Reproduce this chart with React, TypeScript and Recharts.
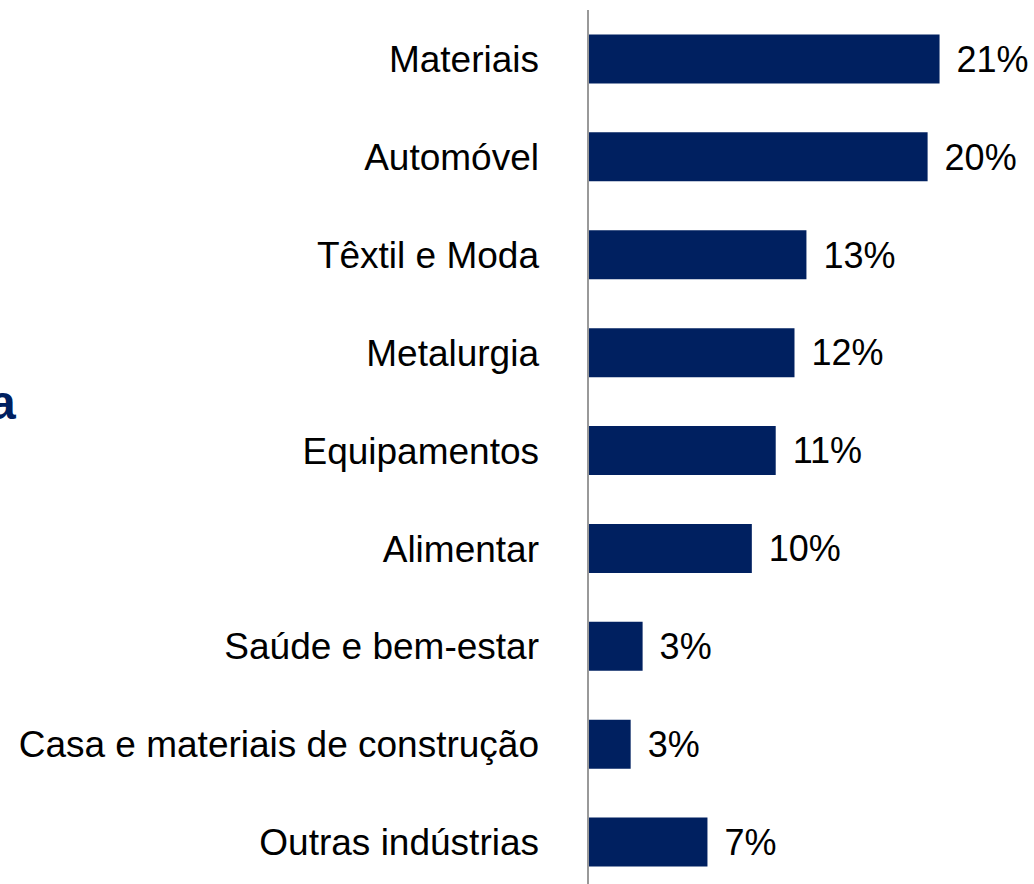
import React from "react";
import { BarChart, Bar, XAxis, YAxis, LabelList } from "recharts";

const categories = [
  "Materiais",
  "Automóvel",
  "Têxtil e Moda",
  "Metalurgia",
  "Equipamentos",
  "Alimentar",
  "Saúde e bem-estar",
  "Casa e materiais de construção",
  "Outras indústrias",
];
const shares = [20.6, 19.9, 12.8, 12.1, 11.0, 9.6, 3.2, 2.5, 7.0];
const shareLabels = ["21%", "20%", "13%", "12%", "11%", "10%", "3%", "3%", "7%"];

const data = categories.map((name, i) => ({ name, value: shares[i], label: shareLabels[i] }));

const FONT = "'Liberation Sans', Arial, sans-serif";
const BAR_COLOR = "#002060";

export default function App() {
  return (
    <div
      style={{
        position: "absolute",
        left: 0,
        top: 0,
        width: 1034,
        height: 884,
        overflow: "hidden",
        background: "#fff",
        fontFamily: FONT,
      }}
    >
      <BarChart
        width={1034}
        height={892}
        data={data}
        layout="vertical"
        margin={{ top: 10, right: 4, bottom: 1, left: 0 }}
        barCategoryGap="25%"
      >
        <XAxis type="number" domain={[0, 25.9]} hide />
        <YAxis
          type="category"
          dataKey="name"
          width={588}
          axisLine={{ stroke: "#999999", strokeWidth: 2 }}
          tickLine={false}
          tickSize={0}
          tickMargin={49}
          tick={{ fill: "#000", fontSize: 37, fontFamily: FONT }}
          interval={0}
        />
        <Bar dataKey="value" fill={BAR_COLOR} isAnimationActive={false}>
          <LabelList
            dataKey="label"
            position="right"
            offset={17}
            fill="#000"
            fontSize={36}
            fontFamily={FONT}
          />
        </Bar>
      </BarChart>
      <svg
        width={1034}
        height={884}
        style={{ position: "absolute", left: 0, top: 0, pointerEvents: "none" }}
      >
        <text x={-11} y={419} fontSize={48} fontWeight="bold" fill={BAR_COLOR} fontFamily={FONT}>
          a
        </text>
      </svg>
    </div>
  );
}
